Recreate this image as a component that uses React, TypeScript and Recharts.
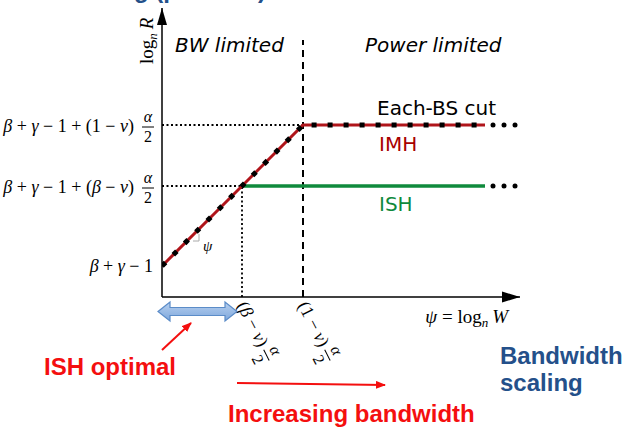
import React from "react";
import { ComposedChart, Line, XAxis, YAxis, ReferenceLine, ReferenceDot } from "recharts";

// page layout of the plot area
const W = 626;
const H = 427;
const PLOT_LEFT = 162;
const PLOT_TOP = 8;
const PLOT_RIGHT = 520;
const PLOT_BOTTOM = 297;
const Y_AXIS_W = 40;
const X_AXIS_H = 40;

// axis ranges: 1 unit = 100px on both axes, so slope psi is drawn at 45 degrees
const X_MAX = 3.58;
const Y_MAX = 2.89;

// psi = log_n W  ->  log_n R
const imhCurve = [
  { x: 0, y: 0.31 },
  { x: 1.41, y: 1.72 },
  { x: 3.23, y: 1.72 },
];
const ishCurve = [
  { x: 0.8, y: 1.11 },
  { x: 3.23, y: 1.11 },
];
const imhTail = [
  { x: 3.31, y: 1.72 },
  { x: 3.42, y: 1.72 },
  { x: 3.53, y: 1.72 },
];
const ishTail = [
  { x: 3.31, y: 1.11 },
  { x: 3.42, y: 1.11 },
  { x: 3.53, y: 1.11 },
];
const limitLineTop = 2.57;

const yTicks = [0.31, 1.11, 1.72];
const yTickLabels = ["β + γ − 1", "β + γ − 1 + (β − ν)", "β + γ − 1 + (1 − ν)"];
const yTickHalfAlpha = [false, true, true];
const xTicks = [0.8, 1.41];
const xTickLabels = ["(β − ν)", "(1 − ν)"];

const MATH = "'Liberation Serif', 'DejaVu Serif', serif";
const SANS = "'DejaVu Sans', sans-serif";
const ARIAL = "'Liberation Sans', Arial, sans-serif";
const RED_CURVE = "#b0151b";
const GREEN = "#0f8a3c";
const BRIGHT_RED = "#f40f0f";
const NAVY = "#24508a";

const italicize = (s: string) =>
  s.split(/([α-ω])/).map((part, i) =>
    /^[α-ω]$/.test(part) ? (
      <tspan key={i} fontStyle="italic">
        {part}
      </tspan>
    ) : (
      part
    )
  );

const HalfAlpha = ({ cx, cy }: { cx: number; cy: number }) => (
  <g fontFamily={MATH} fill="#000">
    <text x={cx} y={cy - 3} textAnchor="middle" fontSize={16} fontStyle="italic">
      α
    </text>
    <line x1={cx - 6} x2={cx + 6} y1={cy + 2} y2={cy + 2} stroke="#000" strokeWidth={1} />
    <text x={cx} y={cy + 17} textAnchor="middle" fontSize={16}>
      2
    </text>
  </g>
);

const YMathTick = (props: any) => {
  const i = yTicks.indexOf(props.payload.value);
  const y = props.y;
  if (!yTickHalfAlpha[i]) {
    return (
      <text x={PLOT_LEFT - 9} y={y + 6} textAnchor="end" fontFamily={MATH} fontSize={18} fill="#000">
        {italicize(yTickLabels[i])}
      </text>
    );
  }
  return (
    <g>
      <text x={PLOT_LEFT - 28} y={y + 7} textAnchor="end" fontFamily={MATH} fontSize={18} fill="#000">
        {italicize(yTickLabels[i])}
      </text>
      <HalfAlpha cx={PLOT_LEFT - 14} cy={y} />
    </g>
  );
};

const XMathTick = (props: any) => {
  const i = xTicks.indexOf(props.payload.value);
  return (
    <g transform={`translate(${props.x - 1},${PLOT_BOTTOM + 6}) rotate(63)`}>
      <text x={0} y={5} fontFamily={MATH} fontSize={18} fill="#000">
        {italicize(xTickLabels[i])}
      </text>
      <HalfAlpha cx={58} cy={-1} />
    </g>
  );
};

const xArrowHead = (p: any) => (
  <path d={`M${p.cx},${p.cy} L${p.cx - 18},${p.cy - 5.5} L${p.cx - 18},${p.cy + 5.5} Z`} fill="#000" />
);
const yArrowHead = (p: any) => (
  <path d={`M${p.cx},${p.cy} L${p.cx - 5},${p.cy + 17} L${p.cx + 5},${p.cy + 17} Z`} fill="#000" />
);

const Annotations = () => (
  <svg width={W} height={H} style={{ position: "absolute", left: 0, top: 0, pointerEvents: "none" }}>
    <defs>
      <marker id="redHead" markerWidth={10} markerHeight={8} refX={9} refY={4} orient="auto" markerUnits="userSpaceOnUse">
        <path d="M0,0 L10,4 L0,8 Z" fill={BRIGHT_RED} />
      </marker>
      <linearGradient id="blueFill" x1="0" y1="0" x2="0" y2="1">
        <stop offset="0" stopColor="#b7d0ef" />
        <stop offset="1" stopColor="#7ea7dc" />
      </linearGradient>
    </defs>

    {/* title cut at the top of the slide, only its descenders show */}
    <text x={266} y={-2} textAnchor="end" fontFamily={ARIAL} fontWeight="bold" fontSize={24} fill={NAVY}>
      Rate scaling (per user)
    </text>

    <text x={175} y={52} fontFamily={SANS} fontStyle="italic" fontSize={20} fill="#000">
      BW limited
    </text>
    <text x={365} y={52} fontFamily={SANS} fontStyle="italic" fontSize={20} fill="#000">
      Power limited
    </text>

    <text x={377} y={115} fontFamily={SANS} fontSize={20} fill="#000">
      Each-BS cut
    </text>
    <text x={379} y={151} fontFamily={SANS} fontSize={20} fill="#a80000">
      IMH
    </text>
    <text x={379} y={211} fontFamily={SANS} fontSize={20} fill={GREEN}>
      ISH
    </text>

    {/* axis titles */}
    <text transform="translate(153,64) rotate(-90)" fontFamily={MATH} fontSize={19} fill="#000">
      log
      <tspan fontSize={13} fontStyle="italic" dy={4}>
        n
      </tspan>
      <tspan fontStyle="italic" dx={4} dy={-4}>
        R
      </tspan>
    </text>
    <text x={508} y={323} textAnchor="end" fontFamily={MATH} fontSize={19} fill="#000">
      <tspan fontStyle="italic">ψ</tspan> = log
      <tspan fontSize={13} fontStyle="italic" dy={4}>
        n
      </tspan>
      <tspan fontStyle="italic" dx={4} dy={-4}>
        W
      </tspan>
    </text>

    {/* slope marker */}
    <path d="M193,241 L199,241 L199,234" fill="none" stroke="#aaa" strokeWidth={1} />
    <text x={203} y={251} fontFamily={MATH} fontStyle="italic" fontSize={15} fill="#000">
      ψ
    </text>

    {/* ISH optimal range */}
    <polygon
      points="158,311.5 170,302 170,307.5 225,307.5 225,302 237,311.5 225,321 225,315.5 170,315.5 170,321"
      fill="url(#blueFill)"
      stroke="#5b8cc8"
      strokeWidth={1.2}
    />
    <line x1={162} y1={350} x2={191} y2={323} stroke={BRIGHT_RED} strokeWidth={2} markerEnd="url(#redHead)" />
    <text x={44} y={375} fontFamily={ARIAL} fontWeight="bold" fontSize={24} fill={BRIGHT_RED}>
      ISH optimal
    </text>

    <line x1={237} y1={383} x2={385} y2={385} stroke={BRIGHT_RED} strokeWidth={2} markerEnd="url(#redHead)" />
    <text x={228} y={422} fontFamily={ARIAL} fontWeight="bold" fontSize={24} fill={BRIGHT_RED}>
      Increasing bandwidth
    </text>

    <text x={500} y={364} fontFamily={ARIAL} fontWeight="bold" fontSize={24} fill={NAVY}>
      Bandwidth
    </text>
    <text x={500} y={391} fontFamily={ARIAL} fontWeight="bold" fontSize={24} fill={NAVY}>
      scaling
    </text>
  </svg>
);

export default function App() {
  const knee = imhCurve[1];
  const ishStart = ishCurve[0];
  return (
    <div style={{ position: "absolute", left: 0, top: 0, width: W, height: H, background: "#fff" }}>
      <ComposedChart
        width={W}
        height={H}
        margin={{
          top: PLOT_TOP,
          left: PLOT_LEFT - Y_AXIS_W,
          right: W - PLOT_RIGHT,
          bottom: H - PLOT_BOTTOM - X_AXIS_H,
        }}
      >
        <XAxis
          type="number"
          dataKey="x"
          domain={[0, X_MAX]}
          allowDataOverflow
          ticks={xTicks}
          interval={0}
          tick={<XMathTick />}
          tickLine={false}
          axisLine={{ stroke: "#000", strokeWidth: 1.5 }}
          height={X_AXIS_H}
        />
        <YAxis
          type="number"
          dataKey="y"
          domain={[0, Y_MAX]}
          allowDataOverflow
          ticks={yTicks}
          interval={0}
          tick={<YMathTick />}
          tickLine={false}
          axisLine={{ stroke: "#000", strokeWidth: 1.5 }}
          width={Y_AXIS_W}
        />

        <ReferenceLine
          segment={[{ x: 0, y: knee.y }, { x: knee.x, y: knee.y }]}
          stroke="#000"
          strokeWidth={1.8}
          strokeDasharray="2 2.5"
        />
        <ReferenceLine
          segment={[{ x: 0, y: ishStart.y }, { x: ishStart.x, y: ishStart.y }]}
          stroke="#000"
          strokeWidth={1.8}
          strokeDasharray="2 2.5"
        />
        <ReferenceLine
          segment={[{ x: ishStart.x, y: 0 }, { x: ishStart.x, y: ishStart.y }]}
          stroke="#000"
          strokeWidth={1.8}
          strokeDasharray="2 2.5"
        />
        <ReferenceLine
          segment={[{ x: knee.x, y: 0 }, { x: knee.x, y: limitLineTop }]}
          stroke="#000"
          strokeWidth={2}
          strokeDasharray="7 5"
        />

        <Line data={ishCurve} dataKey="y" type="linear" stroke={GREEN} strokeWidth={3.5} dot={false} isAnimationActive={false} />
        <Line data={imhCurve} dataKey="y" type="linear" stroke={RED_CURVE} strokeWidth={3} dot={false} isAnimationActive={false} />
        <Line
          data={imhCurve}
          dataKey="y"
          type="linear"
          stroke="#000"
          strokeWidth={5}
          strokeDasharray="5 11"
          dot={false}
          isAnimationActive={false}
        />
        <Line data={imhTail} dataKey="y" stroke="none" dot={{ r: 2.5, fill: "#000", stroke: "none" }} isAnimationActive={false} />
        <Line data={ishTail} dataKey="y" stroke="none" dot={{ r: 2.5, fill: "#000", stroke: "none" }} isAnimationActive={false} />

        <ReferenceDot x={X_MAX} y={0} ifOverflow="visible" shape={xArrowHead} />
        <ReferenceDot x={0} y={Y_MAX - 0.001} ifOverflow="visible" shape={yArrowHead} />
      </ComposedChart>
      <Annotations />
    </div>
  );
}
